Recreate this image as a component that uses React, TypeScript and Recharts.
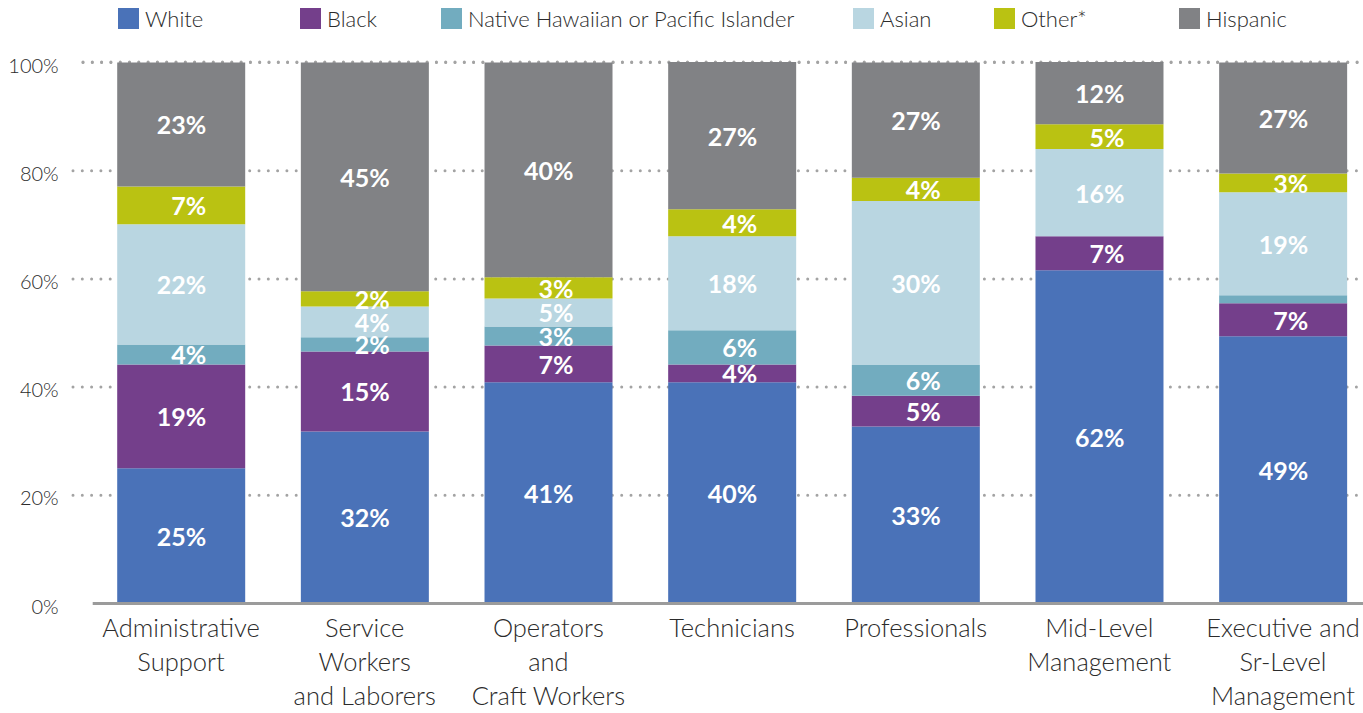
import { BarChart, Bar, XAxis, YAxis, CartesianGrid, LabelList } from "recharts";

const categories = [
  "Administrative\nSupport",
  "Service\nWorkers\nand Laborers",
  "Operators\nand\nCraft Workers",
  "Technicians",
  "Professionals",
  "Mid-Level\nManagement",
  "Executive and\nSr-Level\nManagement",
];

// segment heights as drawn (share of bar, %)
const white = [25.0, 31.8, 40.9, 40.9, 32.7, 61.6, 49.4];
const black = [19.2, 14.8, 6.8, 3.3, 5.7, 6.3, 6.1];
const nhpi = [3.7, 2.6, 3.5, 6.3, 5.7, 0, 1.5];
const asian = [22.2, 5.7, 5.2, 17.4, 30.3, 16.1, 19.0];
const other = [7.0, 2.8, 3.9, 5.0, 4.3, 4.6, 3.5];
const hispanic = [22.9, 42.3, 39.7, 27.2, 21.3, 11.5, 20.5];

// printed labels
const whiteLabels = ["25%", "32%", "41%", "40%", "33%", "62%", "49%"];
const blackLabels = ["19%", "15%", "7%", "4%", "5%", "7%", "7%"];
const nhpiLabels = ["4%", "2%", "3%", "6%", "6%", "", ""];
const asianLabels = ["22%", "4%", "5%", "18%", "30%", "16%", "19%"];
const otherLabels = ["7%", "2%", "3%", "4%", "4%", "5%", "3%"];
const hispanicLabels = ["23%", "45%", "40%", "27%", "27%", "12%", "27%"];

const yTicks = [0, 20, 40, 60, 80, 100];

const series = [
  { key: "white", name: "White", color: "#4a72b8", values: white, labels: whiteLabels },
  { key: "black", name: "Black", color: "#743f8b", values: black, labels: blackLabels },
  { key: "nhpi", name: "Native Hawaiian or Pacific Islander", color: "#72acbf", values: nhpi, labels: nhpiLabels },
  { key: "asian", name: "Asian", color: "#b9d6e1", values: asian, labels: asianLabels },
  { key: "other", name: "Other*", color: "#bac212", values: other, labels: otherLabels },
  { key: "hispanic", name: "Hispanic", color: "#818285", values: hispanic, labels: hispanicLabels },
];

const legendLeft = [118, 300, 441, 853, 994, 1179];

const data = categories.map((name, i) => {
  const row: Record<string, string | number> = { name };
  series.forEach((s) => {
    row[s.key] = s.values[i];
    row[s.key + "Label"] = s.labels[i];
  });
  return row;
});

const FONT = "Lato, 'Noto Sans', sans-serif";
const TEXT = "#2b2b2b";

const renderBarLabel = (props: any) => {
  const { x, y, width, height, value } = props;
  if (!value) return null;
  return (
    <text
      x={Number(x) + Number(width) / 2 + 25}
      y={Number(y) + Number(height) / 2}
      textAnchor="end"
      dominantBaseline="central"
      fill="#fff"
      fontSize={25}
      fontWeight={700}
      fontFamily={FONT}
    >
      {value}
    </text>
  );
};

const XTick = (props: any) => {
  const { x, y, payload } = props;
  const lines = String(payload.value).split("\n");
  return (
    <g>
      {lines.map((line, i) => (
        <text
          key={i}
          x={x}
          y={y + 33 + i * 34}
          textAnchor="middle"
          fill={TEXT}
          fontSize={25.5}
          fontWeight={300}
          fontFamily={FONT}
        >
          {line}
        </text>
      ))}
    </g>
  );
};

const YTick = (props: any) => {
  const { x, y, payload } = props;
  return (
    <text
      x={x}
      y={y + 2}
      textAnchor="end"
      dominantBaseline="central"
      fill={TEXT}
      fontSize={20}
      fontWeight={300}
      fontFamily={FONT}
    >
      {payload.value}%
    </text>
  );
};

const gridLine = (props: any) => {
  const { y1, index } = props;
  if (y1 > 595) return <g key={`g-${index}`} />;
  const start = y1 < 70 ? 83 : 73;
  return (
    <line
      key={`g-${index}`}
      x1={start}
      x2={1363}
      y1={y1}
      y2={y1}
      stroke="#a3a3a3"
      strokeWidth={3}
      strokeDasharray="0 9.3"
      strokeLinecap="round"
    />
  );
};

export default function App() {
  return (
    <div style={{ position: "relative", width: 1363, height: 713, background: "#fff" }}>
      <style>{`body{margin:0;overflow:hidden}`}</style>
      <div style={{ position: "absolute", top: 0, left: 0, width: 1363, height: 40 }}>
        {series.map((s, i) => (
          <div
            key={s.key}
            style={{
              position: "absolute",
              left: legendLeft[i],
              top: 5,
              display: "flex",
              alignItems: "center",
              fontFamily: FONT,
              fontSize: 22,
              fontWeight: 300,
              color: TEXT,
              whiteSpace: "nowrap",
            }}
          >
            <span style={{ width: 21, height: 21, background: s.color, marginRight: 6, display: "inline-block" }} />
            <span>{s.name}</span>
          </div>
        ))}
      </div>
      <BarChart
        width={1363}
        height={713}
        data={data}
        margin={{ top: 62, right: 0, bottom: 0, left: 0 }}
        barSize={128}
      >
        <CartesianGrid vertical={false} horizontal={gridLine} />
        <XAxis
          dataKey="name"
          interval={0}
          height={109.5}
          padding={{ left: -3.5, right: -11.8 }}
          tickLine={false}
          tickSize={0}
          tickMargin={0}
          axisLine={{ stroke: "#9b9b9b", strokeWidth: 3 }}
          tick={<XTick />}
        />
        <YAxis
          type="number"
          domain={[0, 100]}
          ticks={yTicks}
          width={92.7}
          axisLine={false}
          tickLine={false}
          tickSize={0}
          tickMargin={34}
          tick={<YTick />}
        />
        {series.map((s) => (
          <Bar key={s.key} dataKey={s.key} name={s.name} stackId="a" fill={s.color} isAnimationActive={false}>
            <LabelList dataKey={s.key + "Label"} content={renderBarLabel} />
          </Bar>
        ))}
      </BarChart>
    </div>
  );
}
